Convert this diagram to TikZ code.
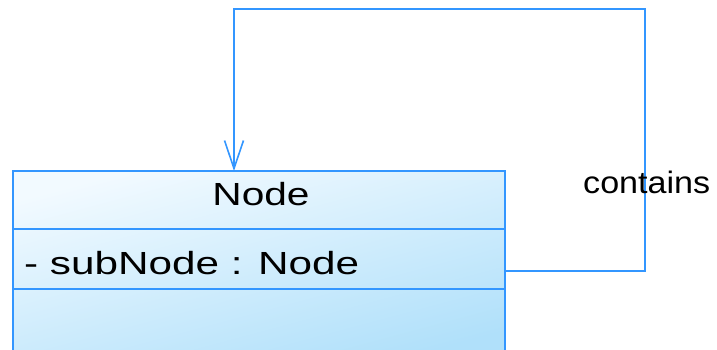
\documentclass[tikz,border=0pt]{standalone}
\usepackage{fontspec}
\setmainfont{Liberation Sans}
\usetikzlibrary{arrows.meta,calc}
\definecolor{umlline}{RGB}{51,150,255}
\definecolor{umltop}{RGB}{242,250,255}
\definecolor{umlbot}{RGB}{176,224,250}
\tikzset{
  classbox/.style={draw=umlline, line width=2pt, rectangle, minimum width=492pt, minimum height=190pt, inner sep=0pt,
    top color=umltop, bottom color=umlbot, shading angle=15},
  sepline/.style={draw=umlline, line width=2pt},
  assoc/.style={draw=umlline, line width=1.6pt, -{Straight Barb[length=28pt,width=19pt,line width=1.6pt]}},
  umltext/.style={inner sep=0pt, font=\fontsize{32pt}{36pt}\selectfont, text=black},
}
\begin{document}
\begin{tikzpicture}[x=1pt,y=1pt]
\useasboundingbox (0,0) rectangle (717,350);
\clip (0,0) rectangle (717,350);
\node[classbox] (cls) at (259,84) {};
\draw[sepline] (cls.west |- 0,121) -- (cls.east |- 0,121);
\draw[sepline] (cls.west |- 0,61) -- (cls.east |- 0,61);
\node[umltext, anchor=base] (title) at (261,144.5) {\scalebox{1.27}[1]{Node}};
\node[umltext, anchor=base west] (attr) at (24,75) {\scalebox{1.32}[1]{-\ subNode : Node}};
\coordinate (s) at (cls.east |- 0,79);
\coordinate (tr) at (645,341);
\coordinate (e) at (234,179);
\draw[assoc] (s) -| (tr) -| (e);
\node[umltext, anchor=base west, font=\fontsize{31pt}{36pt}\selectfont] (lbl) at (583,156) {\scalebox{1.1}[1]{contains}};
\end{tikzpicture}
\end{document}
